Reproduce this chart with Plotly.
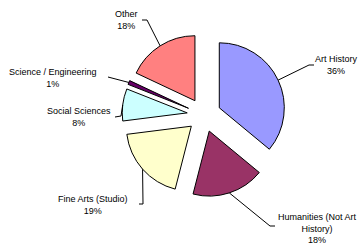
import math
import plotly.graph_objects as go

# ---- data ----
categories = ["Art History", "Humanities (Not Art History)", "Fine Arts (Studio)",
              "Social Sciences", "Science / Engineering", "Other"]
values = [36, 18, 19, 8, 1, 18]
label_texts = ["Art History<br>36%", "Humanities (Not Art<br>History)<br>18%",
               "Fine Arts (Studio)<br>19%", "Social Sciences<br>8%",
               "Science / Engineering<br>1%", "Other<br>18%"]

# ---- style / layout ----
colors = ["#9999FF", "#993366", "#FFFFCC", "#CCFFFF", "#660066", "#FF8080"]
W, H = 362, 252
CX, CY = 204, 115          # pie centre (px)
R = 65                     # pie radius (px)
PULL = 0.26
BOX = R * (1 + PULL)       # half-size of pie domain

# label centres (px) and leader-line elbow/end points near the label (px)
label_pos = [(336, 65.5), (317, 228), (93, 205), (79, 117), (53, 78), (126, 20)]
leader_pts = [
    [(309, 65), (314, 65)],
    [(270, 226), (275, 226)],
    [(143, 204), (139, 204)],
    [(121, 116), (115, 117)],
    [(108, 77)],
    [(147, 20), (142, 20)],
]

def px(x):
    return x / W

def py(y):
    return 1 - y / H

fig = go.Figure(go.Pie(
    labels=categories, values=values, sort=False, direction="clockwise",
    rotation=0, pull=[PULL] * len(values), textinfo="none", hoverinfo="label+percent",
    marker=dict(colors=colors, line=dict(color="black", width=1)),
    domain=dict(x=[px(CX - BOX), px(CX + BOX)], y=[py(CY + BOX), py(CY - BOX)]),
    showlegend=False,
))

total = sum(values)
cum = 0
shapes = []
annotations = []
for i, v in enumerate(values):
    mid = (cum + v / 2) / total * 2 * math.pi
    cum += v
    # arc mid point of pulled slice
    ax = CX + BOX * math.sin(mid)
    ay = CY - BOX * math.cos(mid)
    pts = [(ax, ay)] + leader_pts[i]
    path = "M " + " L ".join(f"{px(x)},{py(y)}" for x, y in pts)
    shapes.append(dict(type="path", xref="paper", yref="paper", path=path,
                       line=dict(color="black", width=1)))
    lx, ly = label_pos[i]
    annotations.append(dict(x=px(lx), y=py(ly), xref="paper", yref="paper",
                            text=label_texts[i], showarrow=False,
                            xanchor="center", yanchor="middle", align="center",
                            font=dict(family="Liberation Sans, Arial, sans-serif",
                                      size=9, color="black")))

fig.update_layout(
    width=W, height=H, margin=dict(l=0, r=0, t=0, b=0),
    paper_bgcolor="white", plot_bgcolor="white",
    shapes=shapes, annotations=annotations,
)

fig.write_html("out.html", config={"displayModeBar": False},
               post_script="document.body.style.margin='0';document.body.style.overflow='hidden';")
